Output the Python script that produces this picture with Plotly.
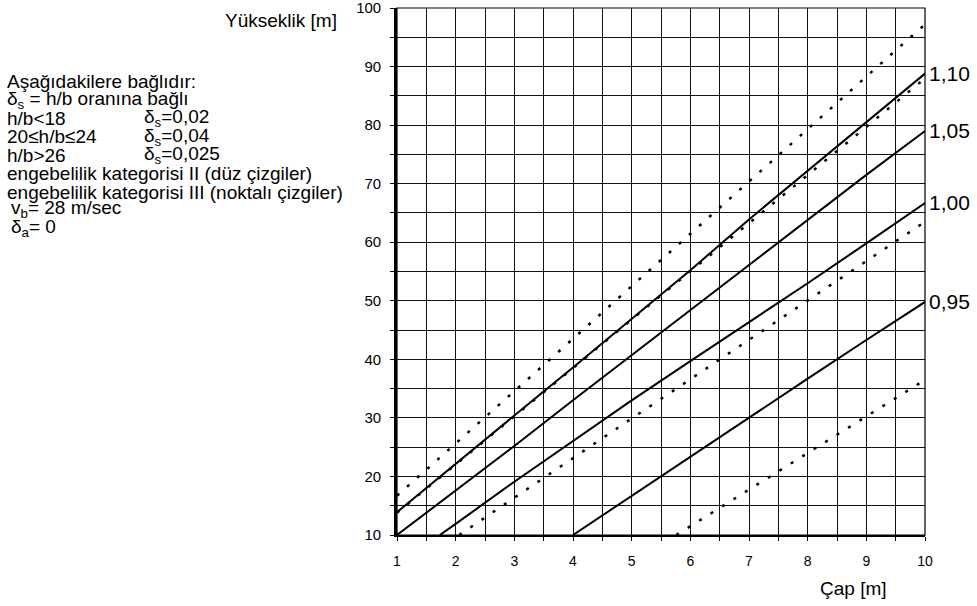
import plotly.graph_objects as go

# ---- data ----
x_full = [1, 2, 3, 4, 5, 6, 7, 8, 9, 10]

solid_110_x = x_full
solid_110_y = [13.9, 22.2, 30.4, 38.6, 46.9, 55.2, 63.9, 72.2, 80.4, 88.8]
solid_105_x = x_full
solid_105_y = [10.0, 17.6, 25.2, 33.0, 40.7, 48.4, 56.2, 63.9, 71.5, 79.0]
solid_100_x = [1.73, 2, 3, 4, 5, 6, 7, 8, 9, 10]
solid_100_y = [10.0, 11.9, 19.1, 26.0, 33.0, 39.7, 46.3, 53.0, 59.8, 66.7]
solid_095_x = [4, 5, 6, 7, 8, 9, 10]
solid_095_y = [10.0, 16.7, 23.3, 30.0, 36.7, 43.3, 49.8]

dot_1_x = x_full
dot_1_y = [16.7, 25.6, 34.6, 43.5, 52.5, 61.4, 70.4, 79.3, 88.3, 97.2]
dot_2_x = x_full
dot_2_y = [13.8, 22.0, 30.3, 38.5, 46.8, 55.0, 63.2, 71.5, 79.7, 88.0]
dot_3_x = [2.06, 3, 4, 5, 6, 7, 8, 9, 10]
dot_3_y = [10.0, 16.4, 23.2, 29.9, 36.6, 43.3, 50.1, 56.8, 63.5]
dot_4_x = [5.76, 6, 7, 8, 9, 10]
dot_4_y = [10.0, 11.5, 17.7, 24.0, 30.2, 36.5]

solid_labels = ["1,10", "1,05", "1,00", "0,95"]
x_ticks = [1, 2, 3, 4, 5, 6, 7, 8, 9, 10]
y_ticks = [10, 20, 30, 40, 50, 60, 70, 80, 90, 100]

FONT = "Arial, Liberation Sans, sans-serif"

fig = go.Figure()

solids = [(solid_110_x, solid_110_y), (solid_105_x, solid_105_y),
          (solid_100_x, solid_100_y), (solid_095_x, solid_095_y)]
dots = [(dot_1_x, dot_1_y), (dot_2_x, dot_2_y), (dot_3_x, dot_3_y), (dot_4_x, dot_4_y)]

for xs, ys in dots:
    fig.add_trace(go.Scatter(x=xs, y=ys, mode="lines",
                             line=dict(color="black", width=2.5, dash="3px,10.5px"),
                             showlegend=False, hoverinfo="skip"))
for xs, ys in solids:
    fig.add_trace(go.Scatter(x=xs, y=ys, mode="lines",
                             line=dict(color="black", width=2),
                             showlegend=False, hoverinfo="skip"))

# labels at the right end of solid lines
for (xs, ys), lab in zip(solids, solid_labels):
    fig.add_annotation(x=xs[-1], y=ys[-1], text=lab, showarrow=False,
                       xanchor="left", yanchor="middle", xshift=2,
                       font=dict(family=FONT, size=21, color="black"))

L, R, T, B = 397, 52, 8, 71
W, H = 977, 606
pw, ph = W - L - R, H - T - B


def px2paper(px, py):
    return (px - L) / pw, (H - B - py) / ph


left_lines = [
    (6, 82, "Aşağıdakilere bağlıdır:"),
    (6, 100, "δ<sub>s</sub> = h/b oranına bağlı"),
    (6, 118, "h/b&lt;18"),
    (143, 118, "δ<sub>s</sub>=0,02"),
    (6, 137, "20≤h/b≤24"),
    (143, 137, "δ<sub>s</sub>=0,04"),
    (6, 155, "h/b&gt;26"),
    (143, 155, "δ<sub>s</sub>=0,025"),
    (6, 173, "engebelilik kategorisi II (düz çizgiler)"),
    (6, 192, "engebelilik kategorisi III (noktalı çizgiler)"),
    (10, 209, "v<sub>b</sub>= 28 m/sec"),
    (10, 228, "δ<sub>a</sub>= 0"),
]
for px, py, txt in left_lines:
    xp, yp = px2paper(px, py)
    fig.add_annotation(xref="paper", yref="paper", x=xp, y=yp, text=txt,
                       showarrow=False, xanchor="left", yanchor="middle",
                       borderpad=0,
                       font=dict(family=FONT, size=19, color="black"))

# axis titles
xp, yp = px2paper(339, 20)
fig.add_annotation(xref="paper", yref="paper", x=xp, y=yp, text="Yükseklik [m]",
                   showarrow=False, xanchor="right", yanchor="middle",
                   font=dict(family=FONT, size=19, color="black"))
xp, yp = px2paper(889, 588)
fig.add_annotation(xref="paper", yref="paper", x=xp, y=yp, text="Çap [m]",
                   showarrow=False, xanchor="right", yanchor="middle",
                   font=dict(family=FONT, size=19, color="black"))

# thin frame
fig.add_shape(type="rect", xref="paper", yref="paper", x0=0, y0=0, x1=1, y1=1,
              line=dict(color="black", width=1.2))

fig.update_xaxes(range=[1, 10], tickvals=x_ticks, ticktext=[str(v) for v in x_ticks],
                 showgrid=True, gridcolor="#111", gridwidth=1.3,
                 minor=dict(dtick=0.5, showgrid=True, gridcolor="#111", gridwidth=1.3,
                            ticks="outside", ticklen=4, tickcolor="black"),
                 ticks="outside", ticklen=4, tickcolor="black",
                 ticklabelstandoff=8, ticklabeloverflow="allow", automargin=False,
                 showline=True, linecolor="black", linewidth=2.2,
                 zeroline=False, tickfont=dict(family=FONT, size=14, color="black"))
fig.update_yaxes(range=[10, 100], tickvals=y_ticks, ticktext=[str(v) for v in y_ticks],
                 showgrid=True, gridcolor="#111", gridwidth=1.3,
                 minor=dict(dtick=5, showgrid=True, gridcolor="#111", gridwidth=1.3,
                            ticks="outside", ticklen=4, tickcolor="black"),
                 ticks="outside", ticklen=4, tickcolor="black",
                 ticklabelstandoff=6, ticklabeloverflow="allow", automargin=False,
                 showline=True, linecolor="black", linewidth=2.6,
                 zeroline=False, tickfont=dict(family=FONT, size=15, color="black"))

fig.update_layout(width=W, height=H, margin=dict(l=L, r=R, t=T, b=B, autoexpand=False),
                  plot_bgcolor="white", paper_bgcolor="white", showlegend=False)

fig.write_html("out.html", config={"displayModeBar": False},
               post_script="document.body.style.margin='0';document.body.style.overflow='hidden';")
